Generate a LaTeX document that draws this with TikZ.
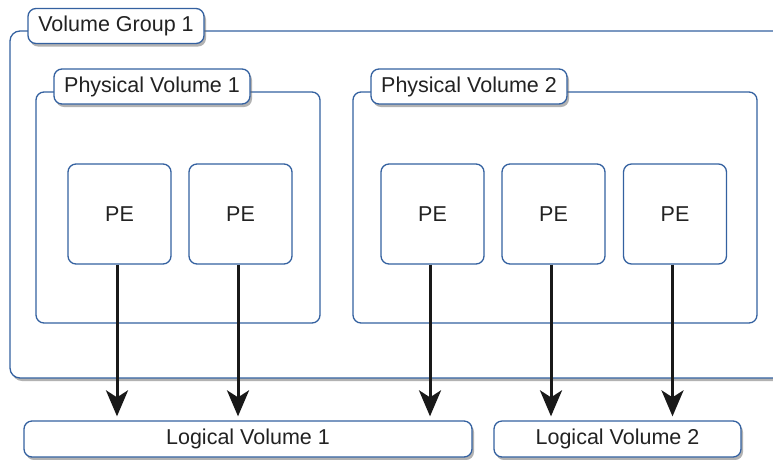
\documentclass[tikz,border=0pt]{standalone}
\usepackage{fontspec}
\setmainfont{Liberation Sans}
\usetikzlibrary{shadows,arrows.meta}
\definecolor{lvmblue}{RGB}{52,97,160}
\definecolor{txt}{RGB}{34,34,34}
\tikzset{
  box/.style={draw=lvmblue, line width=1.3pt, fill=white, rounded corners=8pt, inner sep=0pt, text=txt, font=\fontsize{21.5}{25}\selectfont},
  shad/.style={drop shadow={shadow xshift=2pt, shadow yshift=-3pt, opacity=0.5, fill=black!60}},
  labelbox/.style={box, shad, minimum height=35pt},
  pebox/.style={box, minimum width=103pt, minimum height=100pt},
  flow/.style={line width=3pt, black!90, -{Stealth[length=26pt, width=22pt, inset=7pt]}, shorten >=4pt},
}
\begin{document}
\begin{tikzpicture}[x=1pt, y=-1pt]
\useasboundingbox (0,0) rectangle (773,459);
\clip (0,0) rectangle (773,459);
% volume group
\node[box, shad, rounded corners=10pt, minimum width=790pt, minimum height=347pt] (vg) at (405,204.5) {};
\node[labelbox, minimum width=176pt] (vgl) at (116,26) {Volume Group 1};
% physical volumes
\node[box, minimum width=284pt, minimum height=231pt] (pv1) at (178,207.5) {};
\node[box, minimum width=404pt, minimum height=231pt] (pv2) at (555,207.5) {};
\node[labelbox, minimum width=196pt] (pv1l) at (152,86.5) {Physical Volume 1};
\node[labelbox, minimum width=196pt] (pv2l) at (469,86.5) {Physical Volume 2};
% physical extents
\node[pebox] (pe1) at (119.5,214) {PE};
\node[pebox] (pe2) at (240.5,214) {PE};
\node[pebox] (pe3) at (432.5,214) {PE};
\node[pebox] (pe4) at (553.5,214) {PE};
\node[pebox] (pe5) at (675,214) {PE};
% logical volumes
\node[labelbox, minimum width=448pt, minimum height=36pt] (lv1) at (248,439) {Logical Volume 1};
\node[labelbox, minimum width=247pt, minimum height=36pt] (lv2) at (617.5,439) {Logical Volume 2};
% arrows
\draw[flow] ([xshift=-2.5pt]pe1.south) -- ([xshift=-2.5pt]pe1.south |- lv1.north);
\draw[flow] ([xshift=-2.5pt]pe2.south) -- ([xshift=-2.5pt]pe2.south |- lv1.north);
\draw[flow] ([xshift=-2.5pt]pe3.south) -- ([xshift=-2.5pt]pe3.south |- lv1.north);
\draw[flow] ([xshift=-2.5pt]pe4.south) -- ([xshift=-2.5pt]pe4.south |- lv2.north);
\draw[flow] ([xshift=-2.5pt]pe5.south) -- ([xshift=-2.5pt]pe5.south |- lv2.north);
\end{tikzpicture}
\end{document}
